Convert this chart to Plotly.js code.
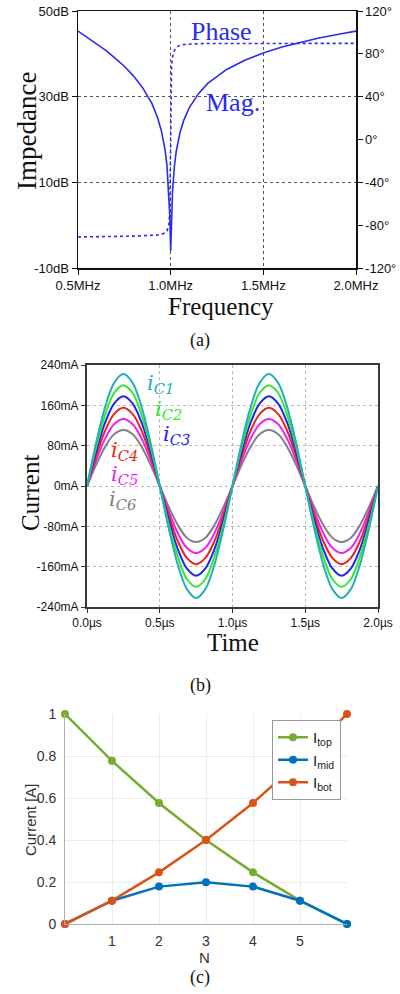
<!DOCTYPE html>
<html>
<head>
<meta charset="utf-8">
<script src="https://cdn.plot.ly/plotly-3.0.1.min.js"></script>
<style>html,body{margin:0;padding:0;background:#fff;}#chart{width:400px;height:994px;}</style>
</head>
<body>
<div id="chart"></div>
<script>
// ---------- (a) impedance ----------
const freqMHz = [0.5,0.55,0.6,0.65,0.7,0.75,0.8,0.85,0.9,0.93,0.95,0.97,0.98,0.99,0.995,1.0,1.005,1.01,1.02,1.03,1.05,1.07,1.1,1.15,1.2,1.3,1.4,1.5,1.6,1.7,1.8,1.9,2.0];
const magDB   = [45.3,43.8,42.3,40.8,39.0,37.1,34.8,32.0,28.3,25.0,22.0,17.5,13.9,7.8,2.5,-6,2.5,7.8,13.7,17.2,21.6,24.4,27.4,30.7,33.1,36.3,38.5,40.2,41.6,42.7,43.7,44.5,45.3];
const phaseDeg = [-91,-91,-90.9,-90.8,-90.6,-90.4,-90.2,-90,-89.6,-89.2,-88.6,-87.2,-85.5,-80,-68,0,68,77,83,86,88,88.7,89.2,89.5,89.6,89.7,89.8,89.8,89.8,89.8,89.8,89.8,89.8];
const freqTickVals = [0.5,1.0,1.5,2.0];
const freqTickText = ["0.5MHz","1.0MHz","1.5MHz","2.0MHz"];
const magTickVals = [-10,10,30,50];
const magTickText = ["-10dB","10dB","30dB","50dB"];
const phaseTickVals = [-120,-80,-40,0,40,80,120];
const phaseTickText = ["-120°","-80°","-40°","0°","40°","80°","120°"];

// ---------- (b) capacitor currents ----------
const timeUs = [0,0.0625,0.125,0.1875,0.25,0.3125,0.375,0.4375,0.5,0.5625,0.625,0.6875,0.75,0.8125,0.875,0.9375,1,1.0625,1.125,1.1875,1.25,1.3125,1.375,1.4375,1.5,1.5625,1.625,1.6875,1.75,1.8125,1.875,1.9375,2];
const iC1 = [0,85,157,205,222,205,157,85,0,-85,-157,-205,-222,-205,-157,-85,0,85,157,205,222,205,157,85,0,-85,-157,-205,-222,-205,-157,-85,0];
const iC2 = [0,77,141,185,200,185,141,77,0,-77,-141,-185,-200,-185,-141,-77,0,77,141,185,200,185,141,77,0,-77,-141,-185,-200,-185,-141,-77,0];
const iC3 = [0,68,126,164,178,164,126,68,0,-68,-126,-164,-178,-164,-126,-68,0,68,126,164,178,164,126,68,0,-68,-126,-164,-178,-164,-126,-68,0];
const iC4 = [0,59,110,143,155,143,110,59,0,-59,-110,-143,-155,-143,-110,-59,0,59,110,143,155,143,110,59,0,-59,-110,-143,-155,-143,-110,-59,0];
const iC5 = [0,51,94,123,133,123,94,51,0,-51,-94,-123,-133,-123,-94,-51,0,51,94,123,133,123,94,51,0,-51,-94,-123,-133,-123,-94,-51,0];
const iC6 = [0,42,78,103,111,103,78,42,0,-42,-78,-103,-111,-103,-78,-42,0,42,78,103,111,103,78,42,0,-42,-78,-103,-111,-103,-78,-42,0];
const currentSeries = [iC1,iC2,iC3,iC4,iC5,iC6];
const currentNames = ["C1","C2","C3","C4","C5","C6"];
const timeTickVals = [0,0.5,1,1.5,2];
const timeTickText = ["0.0µs","0.5µs","1.0µs","1.5µs","2.0µs"];
const mATickVals = [-240,-160,-80,0,80,160,240];
const mATickText = ["-240mA","-160mA","-80mA","0mA","80mA","160mA","240mA"];

// ---------- (c) branch currents vs N ----------
const N = [0,1,2,3,4,5,6];
const Itop = [1,0.777,0.576,0.4,0.246,0.111,0];
const Imid = [0,0.111,0.178,0.199,0.178,0.111,0];
const Ibot = [0,0.111,0.246,0.4,0.576,0.777,1];
const nTickVals = [0,1,2,3,4,5,6];
const nTickText = ["","1","2","3","4","5",""];
const aTickVals = [0,0.2,0.4,0.6,0.8,1];
const aTickText = ["0","0.2","0.4","0.6","0.8","1"];

const W = 400, H = 994;
const px = x => x / W;
const py = y => (H - y) / H;

const blue = "#2a2af0";
const serif = "Liberation Serif, Times New Roman, serif";
const sans = "Liberation Sans, Arial, sans-serif";

const waveColors = ["#22b0b4","#33e633","#2323ee","#f02020","#ee22ee","#808080"];

const traces = [];
traces.push({x: freqMHz, y: magDB, xaxis: "x", yaxis: "y", mode: "lines",
  line: {color: blue, width: 1.6}, showlegend: false});
traces.push({x: freqMHz, y: phaseDeg, xaxis: "x", yaxis: "y2", mode: "lines",
  line: {color: blue, width: 1.6, dash: "dot"}, showlegend: false});

for (let k = currentSeries.length - 1; k >= 0; k--) {
  traces.push({x: timeUs, y: currentSeries[k], xaxis: "x2", yaxis: "y3", mode: "lines",
    line: {color: waveColors[k], width: 2, shape: "spline", smoothing: 1}, showlegend: false});
}

const cTraces = [
  {y: Itop, name: "I<sub>top</sub>", color: "#77ac30"},
  {y: Imid, name: "I<sub>mid</sub>", color: "#0072bd"},
  {y: Ibot, name: "I<sub>bot</sub>", color: "#d95319"}
];
cTraces.forEach(t => traces.push({x: N, y: t.y, xaxis: "x3", yaxis: "y4", mode: "lines+markers",
  name: t.name, line: {color: t.color, width: 2.5}, marker: {color: t.color, size: 8},
  cliponaxis: false, showlegend: true}));

const annotations = [];
function txt(text, x, y, size, color, family, extra) {
  annotations.push(Object.assign({text: text, x: px(x), y: py(y), xref: "paper", yref: "paper",
    showarrow: false, xanchor: "center", yanchor: "middle",
    font: {size: size, color: color, family: family}}, extra || {}));
}
// (a)
txt("Phase", 221, 31, 26, blue, serif);
txt("Mag.", 233, 102, 26, blue, serif);
txt("Impedance", 27, 131, 27, "#111", serif, {textangle: -90});
txt("Frequency", 221, 307, 25, "#111", serif);
txt("(a)", 200, 341, 18, "#111", serif);
// (b)
const labelPos = [[160,384],[168,410],[176,435],[124,451],[124,475],[122,500]];
currentNames.forEach((n, k) => txt("<i>i</i><sub><i>" + n + "</i></sub>", labelPos[k][0], labelPos[k][1], 21, waveColors[k], "DejaVu Serif, serif"));
txt("Current", 30, 493, 25, "#111", serif, {textangle: -90});
txt("Time", 233, 642, 25, "#111", serif);
txt("(b)", 200, 685, 18, "#111", serif);
// (c)
txt("Current [A]", 30, 820, 15, "#333", sans, {textangle: -90});
txt("N", 205, 957, 15, "#333", sans);
txt("(c)", 200, 977, 18, "#111", serif);

const layout = {
  width: W, height: H, margin: {l: 0, r: 0, t: 0, b: 0},
  paper_bgcolor: "#fff", plot_bgcolor: "#fff", hovermode: false,
  annotations: annotations,
  xaxis: {domain: [px(78), px(356)], anchor: "y", range: [0.5, 2.0],
    tickvals: freqTickVals, ticktext: freqTickText, ticks: "outside", ticklen: 5, tickcolor: "#111",
    showline: true, linecolor: "#111", linewidth: 1.5, mirror: true,
    showgrid: true, gridcolor: "#555", griddash: "dot", gridwidth: 1, zeroline: false,
    tickfont: {family: sans, size: 13, color: "#111"}},
  yaxis: {domain: [py(268), py(11)], anchor: "x", range: [-10, 50],
    tickvals: magTickVals, ticktext: magTickText, ticks: "outside", ticklen: 5, tickcolor: "#111",
    showline: true, linecolor: "#111", linewidth: 1.5, mirror: true,
    showgrid: true, gridcolor: "#555", griddash: "dot", gridwidth: 1, zeroline: false,
    tickfont: {family: sans, size: 13, color: "#111"}},
  yaxis2: {overlaying: "y", side: "right", anchor: "x", range: [-120, 120],
    tickvals: phaseTickVals, ticktext: phaseTickText, ticks: "outside", ticklen: 5, tickcolor: "#111",
    showline: true, linecolor: "#111", linewidth: 1.5, showgrid: false, zeroline: false,
    tickfont: {family: sans, size: 13, color: "#111"}},
  xaxis2: {domain: [px(87), px(378)], anchor: "y3", range: [0, 2],
    tickvals: timeTickVals, ticktext: timeTickText, ticks: "outside", ticklen: 4, tickcolor: "#333",
    showline: true, linecolor: "#3a3a3a", linewidth: 2, mirror: true,
    showgrid: true, gridcolor: "#b8b8b8", griddash: "dot", gridwidth: 1, zeroline: false,
    tickfont: {family: sans, size: 12, color: "#111"}},
  yaxis3: {domain: [py(607), py(365)], anchor: "x2", range: [-240, 240],
    tickvals: mATickVals, ticktext: mATickText, ticks: "outside", ticklen: 4, tickcolor: "#333",
    showline: true, linecolor: "#3a3a3a", linewidth: 2, mirror: true,
    showgrid: true, gridcolor: "#b8b8b8", griddash: "dot", gridwidth: 1, zeroline: false,
    tickfont: {family: sans, size: 12, color: "#111"}},
  xaxis3: {domain: [px(65), px(347)], anchor: "y4", range: [0, 6],
    tickvals: nTickVals, ticktext: nTickText, ticks: "", ticklabelstandoff: 4,
    showline: true, linecolor: "#b0b0b0", linewidth: 1,
    showgrid: true, gridcolor: "#ececec", gridwidth: 1, zeroline: false,
    tickfont: {family: sans, size: 14, color: "#333"}},
  yaxis4: {domain: [py(924), py(714)], anchor: "x3", range: [0, 1],
    tickvals: aTickVals, ticktext: aTickText, ticks: "", ticklabelstandoff: 5,
    showline: true, linecolor: "#b0b0b0", linewidth: 1,
    showgrid: true, gridcolor: "#ececec", gridwidth: 1, zeroline: false,
    tickfont: {family: sans, size: 14, color: "#333"}},
  legend: {x: px(341), y: py(720), xanchor: "right", yanchor: "top",
    bgcolor: "#fff", bordercolor: "#999", borderwidth: 1, itemwidth: 30,
    tracegroupgap: 0, font: {family: sans, size: 15, color: "#222"}}
};

Plotly.newPlot("chart", traces, layout, {staticPlot: true, displayModeBar: false});
</script>
</body>
</html>
